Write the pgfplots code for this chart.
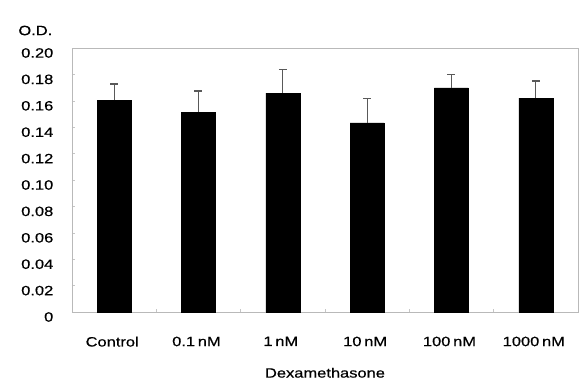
\documentclass[border=0pt]{standalone}
\usepackage{fontspec}
\setmainfont{Liberation Sans}[FakeStretch=1.22, FakeBold=0.6, WordSpace=0.6]
\usepackage{pgfplots}
\pgfplotsset{compat=1.18}
\newcommand{\fs}{\fontsize{13.5bp}{15bp}\selectfont}
\begin{document}
\fs
\begin{tikzpicture}
\useasboundingbox (-72bp,-75bp) rectangle (508bp,312bp);
\begin{axis}[
  scale only axis,
  width=506bp, height=264bp,
  at={(0,0)}, anchor=south west,
  xmin=-0.5, xmax=5.5,
  ymin=0, ymax=0.20,
  axis line style={draw=gray!55, line width=0.8pt},
  ytick={0,0.02,0.04,0.06,0.08,0.10,0.12,0.14,0.16,0.18,0.20},
  yticklabels={0,0.02,0.04,0.06,0.08,0.10,0.12,0.14,0.16,0.18,0.20},
  xtick={0,1,2,3,4,5},
  xticklabels={Control,0.1 nM,1 nM,10 nM,100 nM,1000 nM},
  minor xtick={0.5,1.5,2.5,3.5,4.5},
  tick style={draw=gray!45, line width=0.5pt},
  major x tick style={draw=none},
  major tick length=3bp, minor tick length=3bp,
  ytick pos=left, xtick pos=bottom,
  tick align=inside,
  yticklabel style={font=\fs, xshift=-14bp, yshift=-5bp},
  xticklabel style={font=\fs, yshift=-20bp, xshift=-2bp},
  xlabel={Dexamethasone},
  xlabel style={font=\fs, yshift=-12bp},
  ylabel={O.D.},
  ylabel style={rotate=-90, at={(rel axis cs:0,1)}, anchor=south east, xshift=-15bp, yshift=8bp, font=\fs},
  clip=false,
]
\addplot[ybar, bar width=34bp, fill=black, draw=black,
  error bars/.cd, y dir=plus, y explicit,
  error bar style={draw=gray!70!black, line width=1pt},
  error mark options={draw=gray!70!black, line width=1.2pt, mark size=4bp, rotate=90}]
  table[x=x, y=y, y error=e] {
x y e
0 0.1606 0.0121
1 0.1515 0.0159
2 0.1659 0.0181
3 0.1432 0.0188
4 0.1697 0.0103
5 0.1620 0.0130
};
\end{axis}
\end{tikzpicture}
\end{document}
